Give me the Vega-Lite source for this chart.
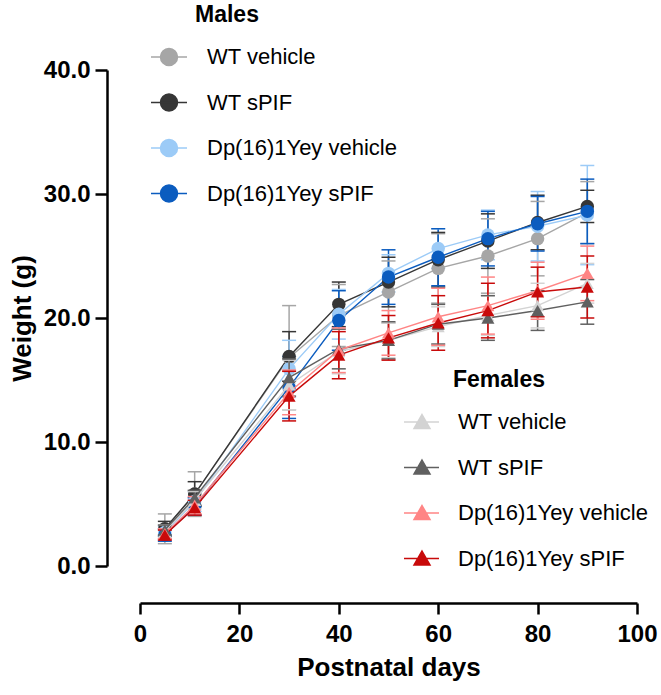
{
  "$schema": "https://vega.github.io/schema/vega-lite/v6.json",
  "width": 497,
  "height": 496,
  "autosize": "none",
  "padding": {"left": 140, "top": 70, "right": 24, "bottom": 129},
  "background": "white",
  "config": {
    "view": {"stroke": null},
    "font": "Liberation Sans",
    "axisX": {"offset": 37, "domainWidth": 2.5, "domainColor": "black", "tickWidth": 2.5, "tickColor": "black", "tickSize": 11, "labelFont": "Liberation Sans", "labelFontWeight": "bold", "labelFontSize": 24, "labelColor": "black", "labelPadding": 8, "titleFont": "Liberation Sans", "titleFontSize": 26, "titleFontWeight": "bold", "titleColor": "black", "titlePadding": 8, "grid": false, "labelFlush": false},
    "axisY": {"offset": 33, "domainWidth": 2.5, "domainColor": "black", "tickWidth": 2.5, "tickColor": "black", "tickSize": 12, "labelFont": "Liberation Sans", "labelFontWeight": "bold", "labelFontSize": 24, "labelColor": "black", "labelPadding": 5, "titleFont": "Liberation Sans", "titleFontSize": 26, "titleFontWeight": "bold", "titleColor": "black", "titlePadding": 8, "grid": false, "labelFlush": false}
  },
  "datasets": {
    "males": [
      {"g": "WT vehicle", "d": 5, "w": 3.0, "lo": 1.8, "hi": 4.2},
      {"g": "WT vehicle", "d": 11, "w": 5.8, "lo": 4.0, "hi": 7.6},
      {"g": "WT vehicle", "d": 30, "w": 16.8, "lo": 12.6, "hi": 21.0},
      {"g": "WT vehicle", "d": 40, "w": 20.2, "lo": 17.7, "hi": 22.7},
      {"g": "WT vehicle", "d": 50, "w": 22.1, "lo": 19.6, "hi": 24.6},
      {"g": "WT vehicle", "d": 60, "w": 24.0, "lo": 21.2, "hi": 26.8},
      {"g": "WT vehicle", "d": 70, "w": 25.0, "lo": 22.0, "hi": 28.0},
      {"g": "WT vehicle", "d": 80, "w": 26.4, "lo": 23.4, "hi": 29.4},
      {"g": "WT vehicle", "d": 90, "w": 28.5, "lo": 26.0, "hi": 31.0},
      {"g": "WT sPIF", "d": 5, "w": 3.0, "lo": 2.4, "hi": 3.6},
      {"g": "WT sPIF", "d": 11, "w": 5.8, "lo": 4.8, "hi": 6.8},
      {"g": "WT sPIF", "d": 30, "w": 16.9, "lo": 14.9, "hi": 18.9},
      {"g": "WT sPIF", "d": 40, "w": 21.1, "lo": 19.3, "hi": 22.9},
      {"g": "WT sPIF", "d": 50, "w": 22.9, "lo": 20.9, "hi": 24.9},
      {"g": "WT sPIF", "d": 60, "w": 24.7, "lo": 22.5, "hi": 26.9},
      {"g": "WT sPIF", "d": 70, "w": 26.2, "lo": 24.0, "hi": 28.4},
      {"g": "WT sPIF", "d": 80, "w": 27.7, "lo": 25.5, "hi": 29.9},
      {"g": "WT sPIF", "d": 90, "w": 29.0, "lo": 27.7, "hi": 30.3},
      {"g": "Dp(16)1Yey vehicle", "d": 5, "w": 2.7, "lo": 2.2, "hi": 3.2},
      {"g": "Dp(16)1Yey vehicle", "d": 11, "w": 5.2, "lo": 4.4, "hi": 6.0},
      {"g": "Dp(16)1Yey vehicle", "d": 30, "w": 15.9, "lo": 13.6, "hi": 18.2},
      {"g": "Dp(16)1Yey vehicle", "d": 40, "w": 20.3, "lo": 18.3, "hi": 22.3},
      {"g": "Dp(16)1Yey vehicle", "d": 50, "w": 23.6, "lo": 22.1, "hi": 25.1},
      {"g": "Dp(16)1Yey vehicle", "d": 60, "w": 25.6, "lo": 24.0, "hi": 27.2},
      {"g": "Dp(16)1Yey vehicle", "d": 70, "w": 26.7, "lo": 24.7, "hi": 28.7},
      {"g": "Dp(16)1Yey vehicle", "d": 80, "w": 27.4, "lo": 24.6, "hi": 30.2},
      {"g": "Dp(16)1Yey vehicle", "d": 90, "w": 28.3, "lo": 24.3, "hi": 32.3},
      {"g": "Dp(16)1Yey sPIF", "d": 5, "w": 2.5, "lo": 2.0, "hi": 3.0},
      {"g": "Dp(16)1Yey sPIF", "d": 11, "w": 4.8, "lo": 4.1, "hi": 5.5},
      {"g": "Dp(16)1Yey sPIF", "d": 30, "w": 14.4, "lo": 11.9, "hi": 16.9},
      {"g": "Dp(16)1Yey sPIF", "d": 40, "w": 19.8, "lo": 17.4, "hi": 22.2},
      {"g": "Dp(16)1Yey sPIF", "d": 50, "w": 23.3, "lo": 21.1, "hi": 25.5},
      {"g": "Dp(16)1Yey sPIF", "d": 60, "w": 24.9, "lo": 22.6, "hi": 27.2},
      {"g": "Dp(16)1Yey sPIF", "d": 70, "w": 26.4, "lo": 24.2, "hi": 28.6},
      {"g": "Dp(16)1Yey sPIF", "d": 80, "w": 27.6, "lo": 25.4, "hi": 29.8},
      {"g": "Dp(16)1Yey sPIF", "d": 90, "w": 28.6, "lo": 26.0, "hi": 31.2}
    ],
    "females": [
      {"g": "WT vehicle", "d": 5, "w": 2.8, "lo": 2.3, "hi": 3.3},
      {"g": "WT vehicle", "d": 11, "w": 5.3, "lo": 4.6, "hi": 6.0},
      {"g": "WT vehicle", "d": 30, "w": 14.6, "lo": 12.6, "hi": 16.6},
      {"g": "WT vehicle", "d": 40, "w": 17.3, "lo": 15.5, "hi": 19.1},
      {"g": "WT vehicle", "d": 50, "w": 18.2, "lo": 16.8, "hi": 19.6},
      {"g": "WT vehicle", "d": 60, "w": 19.3, "lo": 17.7, "hi": 20.9},
      {"g": "WT vehicle", "d": 70, "w": 20.2, "lo": 18.6, "hi": 21.8},
      {"g": "WT vehicle", "d": 80, "w": 21.0, "lo": 19.2, "hi": 22.8},
      {"g": "WT vehicle", "d": 90, "w": 22.8, "lo": 21.2, "hi": 24.4},
      {"g": "WT sPIF", "d": 5, "w": 2.9, "lo": 2.5, "hi": 3.3},
      {"g": "WT sPIF", "d": 11, "w": 5.5, "lo": 4.9, "hi": 6.1},
      {"g": "WT sPIF", "d": 30, "w": 15.2, "lo": 13.7, "hi": 16.7},
      {"g": "WT sPIF", "d": 40, "w": 17.5, "lo": 15.9, "hi": 19.1},
      {"g": "WT sPIF", "d": 50, "w": 18.2, "lo": 16.7, "hi": 19.7},
      {"g": "WT sPIF", "d": 60, "w": 19.5, "lo": 17.9, "hi": 21.1},
      {"g": "WT sPIF", "d": 70, "w": 20.0, "lo": 18.2, "hi": 21.8},
      {"g": "WT sPIF", "d": 80, "w": 20.6, "lo": 19.0, "hi": 22.2},
      {"g": "WT sPIF", "d": 90, "w": 21.3, "lo": 19.5, "hi": 23.1},
      {"g": "Dp(16)1Yey vehicle", "d": 5, "w": 2.6, "lo": 2.2, "hi": 3.0},
      {"g": "Dp(16)1Yey vehicle", "d": 11, "w": 4.9, "lo": 4.2, "hi": 5.6},
      {"g": "Dp(16)1Yey vehicle", "d": 30, "w": 14.0, "lo": 12.2, "hi": 15.8},
      {"g": "Dp(16)1Yey vehicle", "d": 40, "w": 17.4, "lo": 15.6, "hi": 19.2},
      {"g": "Dp(16)1Yey vehicle", "d": 50, "w": 18.8, "lo": 17.0, "hi": 20.6},
      {"g": "Dp(16)1Yey vehicle", "d": 60, "w": 20.1, "lo": 17.8, "hi": 22.4},
      {"g": "Dp(16)1Yey vehicle", "d": 70, "w": 21.0, "lo": 18.7, "hi": 23.3},
      {"g": "Dp(16)1Yey vehicle", "d": 80, "w": 22.2, "lo": 19.9, "hi": 24.5},
      {"g": "Dp(16)1Yey vehicle", "d": 90, "w": 23.6, "lo": 21.4, "hi": 25.8},
      {"g": "Dp(16)1Yey sPIF", "d": 5, "w": 2.5, "lo": 2.1, "hi": 2.9},
      {"g": "Dp(16)1Yey sPIF", "d": 11, "w": 4.7, "lo": 4.1, "hi": 5.3},
      {"g": "Dp(16)1Yey sPIF", "d": 30, "w": 13.7, "lo": 11.7, "hi": 15.7},
      {"g": "Dp(16)1Yey sPIF", "d": 40, "w": 17.0, "lo": 15.1, "hi": 18.9},
      {"g": "Dp(16)1Yey sPIF", "d": 50, "w": 18.4, "lo": 16.6, "hi": 20.2},
      {"g": "Dp(16)1Yey sPIF", "d": 60, "w": 19.6, "lo": 17.4, "hi": 21.8},
      {"g": "Dp(16)1Yey sPIF", "d": 70, "w": 20.6, "lo": 18.4, "hi": 22.8},
      {"g": "Dp(16)1Yey sPIF", "d": 80, "w": 22.1, "lo": 20.1, "hi": 24.1},
      {"g": "Dp(16)1Yey sPIF", "d": 90, "w": 22.5, "lo": 20.0, "hi": 25.0}
    ]
  },
  "layer": [
    {
      "data": {"name": "males"},
      "encoding": {
        "x": {"field": "d", "type": "quantitative", "scale": {"domain": [0, 100]}, "title": "Postnatal days", "axis": {"values": [0, 20, 40, 60, 80, 100]}},
        "color": {
          "field": "g", "type": "nominal",
          "scale": {"domain": ["WT vehicle", "WT sPIF", "Dp(16)1Yey vehicle", "Dp(16)1Yey sPIF"], "range": ["#a6a6a6", "#363636", "#9ccbf7", "#0b5cbf"]},
          "legend": {
            "orient": "none", "legendX": 55, "legendY": -66, "title": "Males", "padding": 0,
            "titleFont": "Liberation Sans", "titleFontSize": 23, "titleFontWeight": "bold", "titleColor": "black", "titlePadding": 19, "titleAnchor": "start",
            "labelFont": "Liberation Sans", "labelFontSize": 22, "labelColor": "black", "labelOffset": -10, "labelLimit": 400,
            "rowPadding": 21.5, "symbolSize": 100, "symbolStrokeWidth": 1.5,
            "symbolType": "M-11,0L-3.8,0M-9.1,0A1.7,1.7,0,1,0,-5.7,0A1.7,1.7,0,1,0,-9.1,0Z",
            "encode": {"symbols": {"update": {
              "shape": {"value": "M-11,0L-3.8,0M-9.1,0A1.7,1.7,0,1,0,-5.7,0A1.7,1.7,0,1,0,-9.1,0Z"},
              "fill": {"signal": "{'WT vehicle':'#a6a6a6','WT sPIF':'#363636','Dp(16)1Yey vehicle':'#9ccbf7','Dp(16)1Yey sPIF':'#0b5cbf'}[datum.value]"},
              "stroke": {"signal": "{'WT vehicle':'#a6a6a6','WT sPIF':'#363636','Dp(16)1Yey vehicle':'#9ccbf7','Dp(16)1Yey sPIF':'#0b5cbf'}[datum.value]"},
              "opacity": {"value": 1}
            }}}
          }
        }
      },
      "layer": [
        {"mark": {"type": "rule", "strokeWidth": 1.5}, "encoding": {"y": {"field": "lo", "type": "quantitative", "scale": {"domain": [0, 40]}, "title": "Weight (g)", "axis": {"values": [0, 10, 20, 30, 40], "format": ".1f"}}, "y2": {"field": "hi"}}},
        {"mark": {"type": "tick", "orient": "horizontal", "size": 14, "thickness": 1.5, "opacity": 1}, "encoding": {"y": {"field": "lo", "type": "quantitative", "title": "Weight (g)", "axis": {"values": [0, 10, 20, 30, 40], "format": ".1f"}}}},
        {"mark": {"type": "tick", "orient": "horizontal", "size": 14, "thickness": 1.5, "opacity": 1}, "encoding": {"y": {"field": "hi", "type": "quantitative", "title": "Weight (g)", "axis": {"values": [0, 10, 20, 30, 40], "format": ".1f"}}}},
        {"mark": {"type": "line", "strokeWidth": 1.4}, "encoding": {"y": {"field": "w", "type": "quantitative", "title": "Weight (g)", "axis": {"values": [0, 10, 20, 30, 40], "format": ".1f"}}}},
        {"mark": {"type": "point", "shape": "circle", "filled": true, "size": 180, "opacity": 1}, "encoding": {"y": {"field": "w", "type": "quantitative", "title": "Weight (g)", "axis": {"values": [0, 10, 20, 30, 40], "format": ".1f"}}}}
      ]
    },
    {
      "data": {"name": "females"},
      "encoding": {
        "x": {"field": "d", "type": "quantitative", "scale": {"domain": [0, 100]}, "title": "Postnatal days", "axis": {"values": [0, 20, 40, 60, 80, 100]}},
        "color": {
          "field": "g", "type": "nominal",
          "scale": {"domain": ["WT vehicle", "WT sPIF", "Dp(16)1Yey vehicle", "Dp(16)1Yey sPIF"], "range": ["#d3d3d3", "#606060", "#ff8585", "#c80a0a"]},
          "legend": {
            "orient": "none", "legendX": 313, "legendY": 299, "title": "Females", "padding": 0,
            "titleFont": "Liberation Sans", "titleFontSize": 23, "titleFontWeight": "bold", "titleColor": "black", "titlePadding": 19, "titleAnchor": "start",
            "labelFont": "Liberation Sans", "labelFontSize": 22, "labelColor": "black", "labelOffset": -17, "labelLimit": 400,
            "rowPadding": 23.5, "symbolSize": 100, "symbolStrokeWidth": 1.5,
            "symbolType": "M-12,0L-5,0M-8.4,-1.5L-6.8,1.3L-10,1.3Z",
            "encode": {"symbols": {"update": {
              "shape": {"value": "M-12,0L-5,0M-8.4,-1.5L-6.8,1.3L-10,1.3Z"},
              "fill": {"signal": "{'WT vehicle':'#d3d3d3','WT sPIF':'#606060','Dp(16)1Yey vehicle':'#ff8585','Dp(16)1Yey sPIF':'#c80a0a'}[datum.value]"},
              "stroke": {"signal": "{'WT vehicle':'#d3d3d3','WT sPIF':'#606060','Dp(16)1Yey vehicle':'#ff8585','Dp(16)1Yey sPIF':'#c80a0a'}[datum.value]"},
              "opacity": {"value": 1}
            }}}
          }
        }
      },
      "layer": [
        {"mark": {"type": "rule", "strokeWidth": 1.5}, "encoding": {"y": {"field": "lo", "type": "quantitative", "title": "Weight (g)", "axis": {"values": [0, 10, 20, 30, 40], "format": ".1f"}}, "y2": {"field": "hi"}}},
        {"mark": {"type": "tick", "orient": "horizontal", "size": 14, "thickness": 1.5, "opacity": 1}, "encoding": {"y": {"field": "lo", "type": "quantitative", "title": "Weight (g)", "axis": {"values": [0, 10, 20, 30, 40], "format": ".1f"}}}},
        {"mark": {"type": "tick", "orient": "horizontal", "size": 14, "thickness": 1.5, "opacity": 1}, "encoding": {"y": {"field": "hi", "type": "quantitative", "title": "Weight (g)", "axis": {"values": [0, 10, 20, 30, 40], "format": ".1f"}}}},
        {"mark": {"type": "line", "strokeWidth": 1.4}, "encoding": {"y": {"field": "w", "type": "quantitative", "title": "Weight (g)", "axis": {"values": [0, 10, 20, 30, 40], "format": ".1f"}}}},
        {"mark": {"type": "point", "shape": "triangle-up", "filled": true, "size": 170, "opacity": 1}, "encoding": {"y": {"field": "w", "type": "quantitative", "title": "Weight (g)", "axis": {"values": [0, 10, 20, 30, 40], "format": ".1f"}}}}
      ]
    }
  ],
  "resolve": {"scale": {"color": "independent"}, "legend": {"color": "independent"}}
}
